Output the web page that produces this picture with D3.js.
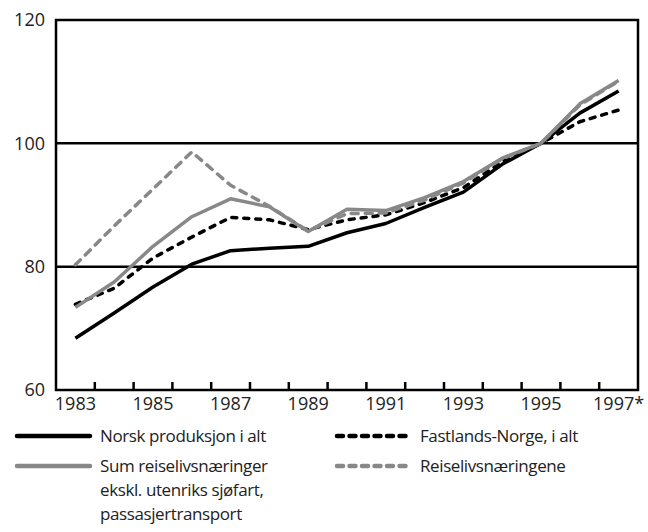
<!DOCTYPE html>
<html><head><meta charset="utf-8">
<script src="https://cdn.jsdelivr.net/npm/d3@7"></script>
<style>body{margin:0;background:#fff}svg{display:block}text{font-family:"Open Sans",sans-serif;fill:#222}</style>
</head><body><svg id="c" width="648" height="532"></svg>
<script>
const years = ["1983","1984","1985","1986","1987","1988","1989","1990","1991","1992","1993","1994","1995","1996","1997"];
const tickLabels = {"1983":"1983","1985":"1985","1987":"1987","1989":"1989","1991":"1991","1993":"1993","1995":"1995","1997":"1997*"};
const yTicks = [60, 80, 100, 120];
const norsk    = [68.4, 72.5, 76.7, 80.4, 82.6, 83.0, 83.3, 85.5, 87.0, 89.6, 92.1, 96.6, 100, 104.9, 108.5];
const fastland = [73.9, 76.5, 81.4, 84.8, 88.0, 87.6, 86.0, 87.6, 88.4, 90.4, 92.8, 97.0, 100, 103.5, 105.4];
const sumReise = [73.4, 77.5, 83.3, 88.1, 91.0, 89.7, 85.7, 89.3, 89.1, 91.2, 93.8, 97.6, 100, 106.4, 110.2];
const reise    = [80.3, 86.6, 92.6, 98.6, 93.2, 89.8, 85.8, 88.6, 88.7, 90.8, 93.6, 97.5, 100, 106.2, 110.1];
const seriesNames = ["Norsk produksjon i alt","Fastlands-Norge, i alt","Sum reiselivsnæringer ekskl. utenriks sjøfart, passasjertransport","Reiselivsnæringene"];

const svg = d3.select("#c");
const L = 56, R = 638, T = 20, B = 390;
const x = d3.scaleBand().domain(years).range([L, R]).padding(0);
const y = d3.scaleLinear().domain([60, 120]).range([B, T]);

// grid lines
svg.append("g").selectAll("line").data(yTicks.filter(v => v > 60 && v < 120)).join("line")
  .attr("x1", L).attr("x2", R).attr("y1", d => y(d)).attr("y2", d => y(d))
  .attr("stroke", "#000").attr("stroke-width", 2.5);

// frame
svg.append("path").attr("d", `M${L},${B}V${T}H${R}V${B}Z`).attr("fill","none")
  .attr("stroke","#000").attr("stroke-width",2.5);

// y labels
const ya = d3.axisLeft(y).tickValues(yTicks).tickSize(0).tickPadding(11);
svg.append("g").attr("transform", `translate(${L},0)`).call(ya)
  .call(g => g.select(".domain").remove())
  .selectAll("text").attr("font-size", 18).attr("fill", "#222").attr("font-family", '"Open Sans",sans-serif');

// x ticks at band boundaries
svg.append("g").selectAll("line").data(years.slice(1)).join("line")
  .attr("x1", d => x(d)).attr("x2", d => x(d)).attr("y1", B).attr("y2", B - 8)
  .attr("stroke", "#000").attr("stroke-width", 2.5);

// x labels
const xa = d3.axisBottom(x).tickValues(Object.keys(tickLabels)).tickFormat(d => tickLabels[d]).tickSize(0).tickPadding(7);
svg.append("g").attr("transform", `translate(0,${B})`).call(xa)
  .call(g => g.select(".domain").remove())
  .selectAll("text").attr("font-size", 18).attr("fill", "#222").attr("font-family", '"Open Sans",sans-serif');

const line = d3.line().x((d, i) => x(years[i]) + x.bandwidth() / 2).y(d => y(d));
const styles = [
  {data: norsk, color: "#000", dash: null, w: 3.5},
  {data: fastland, color: "#000", dash: "5,7", w: 3.5},
  {data: sumReise, color: "#888", dash: null, w: 3.5},
  {data: reise, color: "#888", dash: "7,7", w: 3.5}
];
styles.forEach(s => {
  svg.append("path").attr("d", line(s.data)).attr("fill", "none")
    .attr("stroke", s.color).attr("stroke-width", s.w)
    .attr("stroke-dasharray", s.dash).attr("stroke-linecap", s.dash ? "round" : "butt")
    .attr("stroke-linejoin", "round");
});

// legend
const leg = [
  {s: styles[0], x: 15, y: 436, lines: ["Norsk produksjon i alt"]},
  {s: styles[1], x: 335, y: 436, lines: ["Fastlands-Norge, i alt"]},
  {s: styles[2], x: 15, y: 466, lines: ["Sum reiselivsnæringer", "ekskl. utenriks sjøfart,", "passasjertransport"]},
  {s: styles[3], x: 335, y: 466, lines: ["Reiselivsnæringene"]}
];
leg.forEach(l => {
  svg.append("line").attr("x1", l.x + 2).attr("x2", l.x + 75).attr("y1", l.y).attr("y2", l.y)
    .attr("stroke", l.s.color).attr("stroke-width", 4.5)
    .attr("stroke-dasharray", l.s.dash ? "6,6.5" : null).attr("stroke-linecap", "round");
  const t = svg.append("text").attr("x", l.x + 85).attr("y", l.y + 6).attr("font-size", 17).attr("letter-spacing", -0.4);
  l.lines.forEach((txt, i) => t.append("tspan").attr("x", l.x + 85).attr("dy", i ? 24 : 0).text(txt));
});
</script></body></html>
